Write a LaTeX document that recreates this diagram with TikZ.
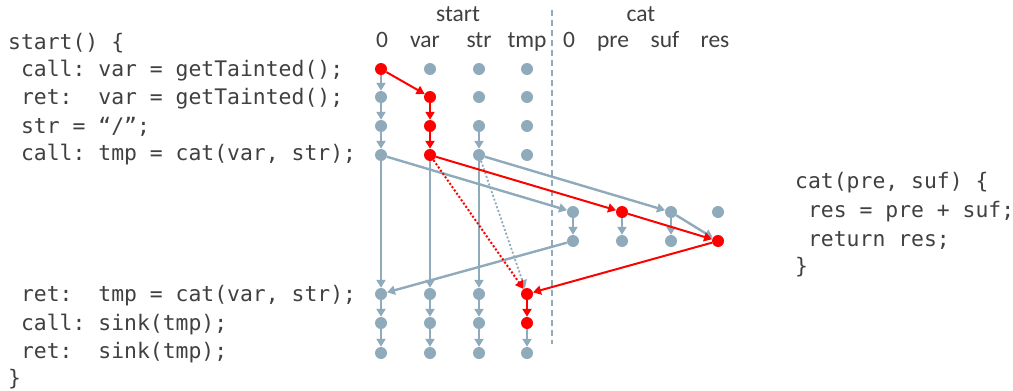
\documentclass[tikz,border=0pt]{standalone}
\usepackage{fontspec}
\setmainfont{Carlito}
\setmonofont{DejaVu Sans Mono}
\usetikzlibrary{arrows.meta,positioning}
\definecolor{dotgray}{HTML}{8FAABB}
\definecolor{txtgray}{HTML}{404040}
\tikzset{
  dot/.style={circle, fill=dotgray, inner sep=0pt, minimum size=12pt},
  flow/.style={draw=dotgray, line width=2.4pt, -{Triangle[width=9pt,length=8pt]}},
  taint/.style={flow, draw=red, line width=2pt},
  code/.style={font=\ttfamily\fontsize{21.4}{28}\selectfont, text=txtgray, anchor=west, inner sep=0pt},
  head/.style={font=\fontsize{23.5}{26}\selectfont, text=txtgray, inner sep=0pt, anchor=base},
  tainted/.cd,
    s-0-1/.style={fill=red}, s-var-2/.style={fill=red}, s-var-3/.style={fill=red},
    s-var-4/.style={fill=red}, s-tmp-5/.style={fill=red}, s-tmp-6/.style={fill=red},
    c-pre-1/.style={fill=red}, c-res-2/.style={fill=red}
}

\begin{document}
\begin{tikzpicture}[x=1pt, y=-1pt, >=Latex]
  \useasboundingbox (0,0) rectangle (1013,391);
  % source code
  \node[code] (l1) at (8,43) {start()~\{};
  \node[code] (l2) at (8,71) {~call:~var~=~getTainted();};
  \node[code] (l3) at (8,99) {~ret:~~var~=~getTainted();};
  \node[code] (l4) at (8,127) {~str~=~“/”;};
  \node[code] (l5) at (8,155) {~call:~tmp~=~cat(var,~str);};
  \node[code] (l6) at (8,296) {~ret:~~tmp~=~cat(var,~str);};
  \node[code] (l7) at (8,325) {~call:~sink(tmp);};
  \node[code] (l8) at (8,353) {~ret:~~sink(tmp);};
  \node[code] (l9) at (8,379) {\}};
  \node[code] (k1) at (795,183) {cat(pre,~suf)~\{};
  \node[code] (k2) at (795,212) {~res~=~pre~+~suf;};
  \node[code] (k3) at (795,240) {~return~res;};
  \node[code] (k4) at (795,267) {\}};

  % headers
  \node[head] (hstart) at (458,21) {start};
  \node[head] (hcat) at (641,21) {cat};
  \foreach \col/\x in {0/382, var/425, str/479, tmp/527}
    \node[head] (h-s-\col) at (\x,47) {\col};
  \foreach \col/\x in {0/569, pre/613, suf/665, res/715}
    \node[head] (h-c-\col) at (\x,47) {\col};
  \coordinate (divtop) at (552,10);
  \coordinate (divbot) at (552,344);
  \draw[dotgray, line width=2.4pt, dash pattern=on 6pt off 4pt] (divtop) -- (divbot);

  % exploded supergraph nodes
  \foreach \col/\x in {0/381, var/430, str/479, tmp/527}
    \foreach \row/\y in {1/69, 2/97, 3/126, 4/155, 5/294, 6/323, 7/353}
      \node[dot, tainted/s-\col-\row/.try] (s-\col-\row) at (\x,\y) {};
  \foreach \col/\x in {0/573, pre/622, suf/671, res/718}
    \foreach \row/\y in {1/212, 2/241}
      \node[dot, tainted/c-\col-\row/.try] (c-\col-\row) at (\x,\y) {};

  % ordinary edges
  \foreach \a/\b in {s-0-1/s-0-2, s-0-2/s-0-3, s-0-3/s-0-4, s-0-4/s-0-5, s-0-5/s-0-6, s-0-6/s-0-7,
      s-var-4/s-var-5, s-var-5/s-var-6, s-var-6/s-var-7,
      s-str-3/s-str-4, s-str-4/s-str-5, s-str-5/s-str-6, s-str-6/s-str-7, s-tmp-6/s-tmp-7,
      s-0-4/c-0-1, s-str-4/c-suf-1, c-0-1/c-0-2, c-pre-1/c-pre-2, c-suf-1/c-suf-2,
      c-suf-1/c-res-2, c-0-2/s-0-5}
    \draw[flow] (\a) -- (\b);
  \draw[flow, line width=1.8pt, dash pattern=on 2pt off 2pt] (s-str-4) -- (s-tmp-5);

  % tainted path
  \foreach \a/\b in {s-0-1/s-var-2, s-var-2/s-var-3, s-var-3/s-var-4, s-var-4/c-pre-1,
      c-pre-1/c-res-2, c-res-2/s-tmp-5, s-tmp-5/s-tmp-6}
    \draw[taint] (\a) -- (\b);
  \draw[taint, dash pattern=on 2pt off 2pt] (s-var-4) -- (s-tmp-5);
\end{tikzpicture}
\end{document}
